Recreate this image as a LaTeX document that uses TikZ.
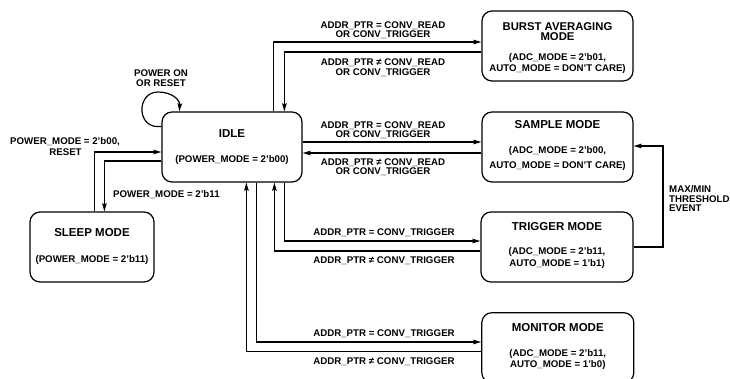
\documentclass[tikz,border=0pt]{standalone}
\usepackage{fontspec}
\setmainfont{Liberation Sans}
\usetikzlibrary{arrows.meta,calc}
\begin{document}
\begin{tikzpicture}[x=1pt,y=-1pt,
  box/.style={draw,line width=1.2pt,rounded corners=10pt,inner sep=0pt,minimum height=70pt},
  ttl/.style={anchor=base,inner sep=0pt,font=\fontsize{11.5}{11.5}\selectfont\bfseries},
  sub/.style={anchor=base,inner sep=0pt,font=\fontsize{9.7}{9.7}\selectfont\bfseries},
  lbl/.style={anchor=base,inner sep=0pt,font=\fontsize{9.7}{9.7}\selectfont\bfseries},
  lbll/.style={anchor=base west,inner sep=0pt,font=\fontsize{9.7}{9.7}\selectfont\bfseries},
  arr/.style={line width=1.2pt,-{Stealth[length=8pt,width=4.5pt,inset=1pt]}}]
\useasboundingbox (0,0) rectangle (730,378);

% boxes
\node[box,minimum width=140pt] (idle) at (232,147) {};
\node[box,minimum width=124pt] (sleep) at (92,247) {};
\node[box,minimum width=151pt] (burst) at (557.5,46) {};
\node[box,minimum width=151pt] (sample) at (557.5,147) {};
\node[box,minimum width=152pt] (trigger) at (557,247) {};
\node[box,minimum width=152pt] (monitor) at (557.8,347.7) {};

% box texts
\node[ttl] (idleT) at (232,137) {IDLE};
\node[sub] (idleS) at (232,162.3) {(POWER\_MODE = 2'b00)};
\node[ttl] (sleepT) at (92,236.7) {SLEEP MODE};
\node[sub] (sleepS) at (92,262) {(POWER\_MODE = 2'b11)};
\node[anchor=north,inner sep=0pt,align=center,font=\fontsize{11.3}{10}\selectfont\bfseries] (burstT) at (557.5,22.4) {BURST AVERAGING\\MODE};
\node[sub] (burstS1) at (557.5,60.3) {(ADC\_MODE = 2'b01,};
\node[sub] (burstS2) at (557.5,71.3) {AUTO\_MODE = DON'T CARE)};
\node[ttl] (sampleT) at (557.5,128.3) {SAMPLE MODE};
\node[sub] (sampleS1) at (557.5,153) {(ADC\_MODE = 2'b00,};
\node[sub] (sampleS2) at (557.5,168) {AUTO\_MODE = DON'T CARE)};
\node[ttl] (triggerT) at (557,230.7) {TRIGGER MODE};
\node[sub] (triggerS1) at (557,254) {(ADC\_MODE = 2'b11,};
\node[sub] (triggerS2) at (557,266) {AUTO\_MODE = 1'b1)};
\node[ttl] (monitorT) at (557.8,331.7) {MONITOR MODE};
\node[sub] (monitorS1) at (557.8,356) {(ADC\_MODE = 2'b11,};
\node[sub] (monitorS2) at (557.8,367) {AUTO\_MODE = 1'b0)};

% connectors: burst
\draw[arr] ($(idle.north west)+(112,0)$) |- ($(burst.west)+(0,-4)$);
\draw[arr] ($(burst.west)+(0,6)$) -| ($(idle.north west)+(123,0)$);
% sample
\draw[arr] ($(idle.east)+(0,-5)$) -- ($(sample.west)+(0,-5)$);
\draw[arr] ($(sample.west)+(0,6)$) -- ($(idle.east)+(0,6)$);
% trigger
\draw[arr] ($(idle.south west)+(123,0)$) |- ($(trigger.west)+(0,-6)$);
\draw[arr] ($(trigger.west)+(0,4)$) -| ($(idle.south west)+(113,0)$);
% monitor
\draw[arr] ($(idle.south west)+(95,0)$) |- ($(monitor.west)+(0,-5.7)$);
\draw[arr] ($(monitor.west)+(0,4)$) -| ($(idle.south west)+(85,0)$);
% trigger -> sample
\coordinate (thr) at (663,247);
\draw[arr] (trigger.east) -- (thr) |- ($(sample.east)+(0,-1)$);
% sleep
\draw[arr] ($(sleep.north west)+(65,0)$) |- ($(idle.west)+(0,5)$);
\draw[arr] ($(idle.west)+(0,14)$) -| ($(sleep.north west)+(75,0)$);
% self loop
\draw[arr] ($(idle.north west)+(0,15)$) .. controls (136,130) and (136,92) .. (158,92) .. controls (172,92) and (180,100) .. ($(idle.north west)+(18,0)$);

% edge labels
\node[lbl] (l1a) at (383,28.3) {ADDR\_PTR = CONV\_READ};
\node[lbl] (l1b) at (383,37.3) {OR CONV\_TRIGGER};
\node[lbl] (l2a) at (383,65.7) {ADDR\_PTR ≠ CONV\_READ};
\node[lbl] (l2b) at (383,75) {OR CONV\_TRIGGER};
\node[lbl] (l3a) at (383,128.3) {ADDR\_PTR = CONV\_READ};
\node[lbl] (l3b) at (383,137) {OR CONV\_TRIGGER};
\node[lbl] (l4a) at (383,165) {ADDR\_PTR ≠ CONV\_READ};
\node[lbl] (l4b) at (383,174.5) {OR CONV\_TRIGGER};
\node[lbl] (l5) at (384,235.5) {ADDR\_PTR = CONV\_TRIGGER};
\node[lbl] (l6) at (384,263) {ADDR\_PTR ≠ CONV\_TRIGGER};
\node[lbl] (l7) at (384,336.5) {ADDR\_PTR = CONV\_TRIGGER};
\node[lbl] (l8) at (384,364.5) {ADDR\_PTR ≠ CONV\_TRIGGER};
\node[lbl] (l9a) at (161,76.7) {POWER ON};
\node[lbl] (l9b) at (161,86) {OR RESET};
\node[lbl] (l10a) at (65,144.3) {POWER\_MODE = 2'b00,};
\node[lbl] (l10b) at (65.5,155.7) {RESET};
\node[lbll] (l11) at (113,197.3) {POWER\_MODE = 2'b11};
\node[lbll] (l12a) at (669,192.5) {MAX/MIN};
\node[lbll] (l12b) at (669,202) {THRESHOLD};
\node[lbll] (l12c) at (669,211.5) {EVENT};
\end{tikzpicture}
\end{document}
